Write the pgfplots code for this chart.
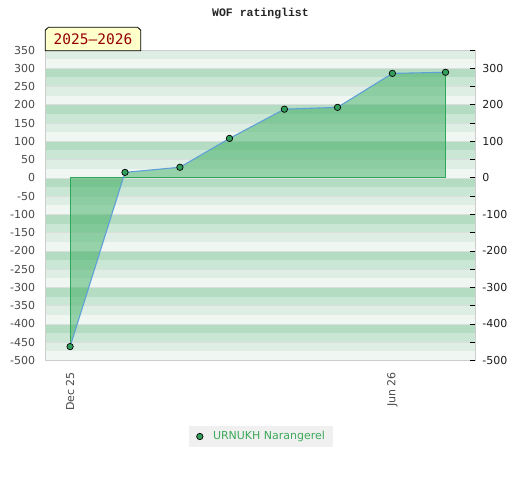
\documentclass[border=0pt]{standalone}
\usepackage{fontspec}
\setmainfont{DejaVu Sans}
\newfontfamily\monofont{DejaVu Sans Mono}
\newfontfamily\titlefont{Liberation Mono}
\usepackage{pgfplots}
\pgfplotsset{compat=1.18}
\definecolor{bandA}{RGB}{240,247,243}
\definecolor{bandB}{RGB}{222,238,229}
\definecolor{bandC}{RGB}{202,230,213}
\definecolor{bandD}{RGB}{179,220,195}
\definecolor{sepline}{RGB}{218,222,220}
\definecolor{areagreen}{RGB}{60,173,97}
\definecolor{areaedge}{RGB}{45,168,88}
\definecolor{lineblue}{RGB}{95,160,215}
\definecolor{markgreen}{RGB}{50,158,92}
\definecolor{bordergray}{RGB}{205,205,205}
\definecolor{leftlab}{RGB}{75,75,75}
\definecolor{rightlab}{RGB}{30,30,30}
\definecolor{legendbg}{RGB}{240,240,240}
\definecolor{legendtext}{RGB}{60,170,90}
\definecolor{boxfill}{RGB}{255,255,204}
\definecolor{boxtext}{RGB}{150,0,0}
\begin{document}
\begin{tikzpicture}
\fill[white] (0pt,0pt) rectangle (520pt,480pt);
\begin{axis}[
  at={(45.3pt,119.5pt)}, anchor=south west,
  scale only axis, width=430pt, height=310.5pt,
  xmin=-14, xmax=228.8, ymin=-500, ymax=350,
  axis on top=true,
  axis line style={bordergray, line width=0.8pt},
  xtick={0,182}, xticklabels={Dec 25,Jun 26},
  xtick style={draw=none}, ytick style={draw=none},
  ytick={-500,-450,...,350},
  /pgf/number format/assume math mode=true,
  /pgf/number format/1000 sep={},
  xticklabel style={rotate=90, anchor=east, inner xsep=11.5pt, inner ysep=0pt, font=\fontsize{11}{13}\selectfont, text=leftlab},
  yticklabel style={anchor=east, inner sep=0pt, xshift=-10pt, font=\fontsize{11}{13}\selectfont, text=leftlab},
  legend style={at={(axis description cs:0.5012,-0.2448)}, anchor=center, draw=none, fill=legendbg,
    inner xsep=8pt, inner ysep=5.5pt, font=\fontsize{11}{13}\selectfont\color{legendtext},
    nodes={inner sep=0pt}, /tikz/every odd column/.append style={column sep=10pt}},
  legend image code/.code={\draw[mark=*, mark size=3.2pt, mark options={fill=markgreen, draw=black, line width=0.7pt}] plot coordinates {(0pt,0pt)};},
]
\pgfplotsinvokeforeach{-5,...,3}{
  \fill[bandA] (axis cs:-14,#1*100) rectangle (axis cs:228.8,#1*100+25);
  \fill[bandB] (axis cs:-14,#1*100+25) rectangle (axis cs:228.8,#1*100+50);
  \fill[bandC] (axis cs:-14,#1*100+50) rectangle (axis cs:228.8,#1*100+75);
  \fill[bandD] (axis cs:-14,#1*100+75) rectangle (axis cs:228.8,#1*100+100);
  \draw[sepline, line width=0.7pt] (axis cs:-14,#1*100) -- (axis cs:228.8,#1*100);
  \draw[sepline, line width=0.7pt] (axis cs:-14,#1*100+50) -- (axis cs:228.8,#1*100+50);
}
\addplot[draw=none, fill=areagreen, fill opacity=0.5, forget plot] coordinates {
  (0,0) (0,-462) (31,15) (62,29) (90,108) (121,188) (151,193) (182,286) (212,289) (212,0)
};
\addplot[areaedge, line width=0.9pt, forget plot] coordinates {
  (0,-462) (0,0) (212,0) (212,289)
};
\addplot[lineblue, line width=1.1pt, forget plot] coordinates {
  (0,-462) (31,15) (62,29) (90,108) (121,188) (151,193) (182,286) (212,289)
};
\addplot[only marks, mark=*, mark size=3.2pt, mark options={fill=markgreen, draw=black, line width=0.7pt}] coordinates {
  (0,-462) (31,15) (62,29) (90,108) (121,188) (151,193) (182,286) (212,289)
};
\addlegendentry{URNUKH Narangerel}
\end{axis}
\begin{axis}[
  at={(45.3pt,119.5pt)}, anchor=south west,
  scale only axis, width=430pt, height=310.5pt,
  xmin=-14, xmax=228.8, ymin=-500, ymax=350,
  axis line style={draw=none},
  xtick=\empty,
  ytick pos=right,
  ytick={-500,-400,...,300},
  minor ytick={-450,-350,...,350},
  tick align=inside,
  major tick length=5pt, minor tick length=5pt,
  ytick style={black, line width=0.8pt},
  /pgf/number format/assume math mode=true,
  yticklabel style={anchor=west, inner sep=0pt, xshift=6.8pt, font=\fontsize{11}{13}\selectfont, text=rightlab},
]
\addplot[draw=none, forget plot] coordinates {(0,0)};
\end{axis}
\node[font=\titlefont\bfseries\fontsize{11.5}{13}\selectfont, text=black!85] at (260.5pt,466.5pt) {WOF ratinglist};
\draw[fill=boxfill, draw=black, line width=0.8pt] (45.3pt,429.3pt) -- (45.3pt,449.8pt) -- (48.3pt,452.7pt) -- (137.7pt,452.7pt) -- (140.7pt,449.8pt) -- (140.7pt,429.3pt) -- cycle;
\node[font=\monofont\fontsize{14.5}{16}\selectfont, text=boxtext] at (93pt,440.5pt) {2025–2026};
\pgfresetboundingbox
\path (0pt,0pt) rectangle (520pt,480pt);
\end{tikzpicture}
\end{document}
